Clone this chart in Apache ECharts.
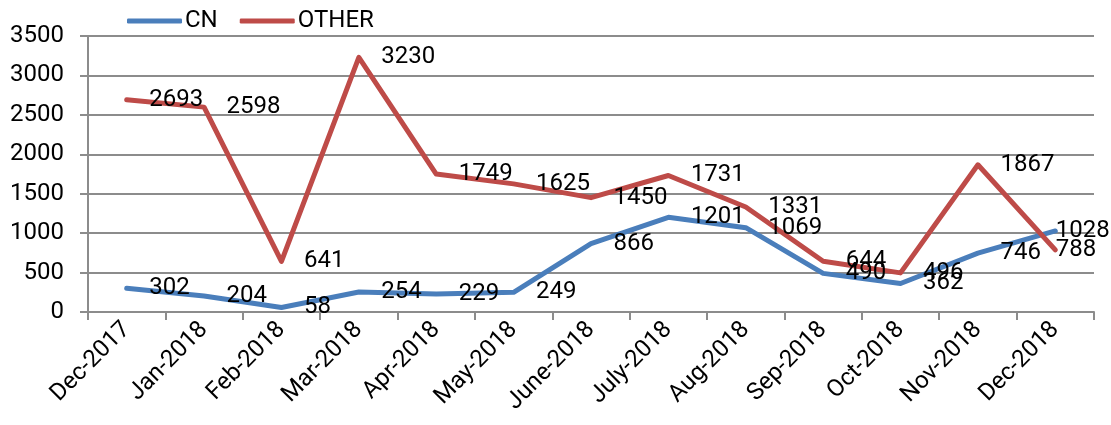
<!DOCTYPE html>
<html>
<head>
<meta charset="utf-8">
<script src="https://cdn.jsdelivr.net/npm/echarts@6/dist/echarts.min.js"></script>
<style>
  html, body { margin: 0; padding: 0; background: #fff; }
  #chart { width: 1111px; height: 425px; }
</style>
</head>
<body>
<div id="chart"></div>
<script>
// monthly counts
var months = ["Dec-2017", "Jan-2018", "Feb-2018", "Mar-2018", "Apr-2018", "May-2018", "June-2018",
  "July-2018", "Aug-2018", "Sep-2018", "Oct-2018", "Nov-2018", "Dec-2018"];
var cnData = [302, 204, 58, 254, 229, 249, 866, 1201, 1069, 490, 362, 746, 1028];
var otherData = [2693, 2598, 641, 3230, 1749, 1625, 1450, 1731, 1331, 644, 496, 1867, 788];

var font = "Roboto";
var gray = "#8c8c8c";

// last label would run off the right edge, pull it back like excel does
function withLabels(arr) {
  return arr.map(function (v, i) {
    if (i === arr.length - 1) {
      return { value: v, label: { distance: 0 } };
    }
    return v;
  });
}

var myChart = echarts.init(document.getElementById("chart"));
var option = {
  backgroundColor: "#fff",
  animation: false,
  textStyle: { fontFamily: font },
  legend: {
    left: 122,
    top: 4,
    itemWidth: 55,
    itemHeight: 5,
    itemGap: 22,
    icon: "roundRect",
    textStyle: { fontSize: 24, color: "#000", fontFamily: font, padding: [0, 0, 0, -2] },
    data: ["CN", "OTHER"],
  },
  grid: { left: 88, right: 17, top: 36, bottom: 113, containLabel: false },
  xAxis: {
    type: "category",
    data: months,
    boundaryGap: true,
    axisLine: { lineStyle: { color: gray, width: 2 } },
    axisTick: { show: true, length: 8, lineStyle: { color: gray, width: 2 } },
    axisLabel: {
      rotate: 45,
      interval: 0,
      margin: 14,
      fontSize: 24,
      color: "#000",
      fontFamily: font,
    },
  },
  yAxis: {
    type: "value",
    min: 0,
    max: 3500,
    interval: 500,
    axisLine: { show: true, lineStyle: { color: gray, width: 2 } },
    axisTick: { show: true, length: 8, lineStyle: { color: gray, width: 2 } },
    splitLine: { show: true, lineStyle: { color: gray, width: 2 } },
    axisLabel: {
      margin: 24,
      fontSize: 24,
      color: "#000",
      fontFamily: font,
      formatter: function (v) { return String(v); },
    },
  },
  series: [
    {
      name: "CN",
      type: "line",
      data: withLabels(cnData),
      symbol: "circle",
      symbolSize: 1,
      lineStyle: { color: "#4a7ebb", width: 5, join: "round", cap: "round" },
      itemStyle: { color: "#4a7ebb" },
      label: { show: true, position: "right", distance: 22, fontSize: 24, color: "#000", fontFamily: font },
    },
    {
      name: "OTHER",
      type: "line",
      data: withLabels(otherData),
      symbol: "circle",
      symbolSize: 1,
      lineStyle: { color: "#be4b48", width: 5, join: "round", cap: "round" },
      itemStyle: { color: "#be4b48" },
      label: { show: true, position: "right", distance: 22, fontSize: 24, color: "#000", fontFamily: font },
    },
  ],
};
myChart.setOption(option);
</script>
</body>
</html>
